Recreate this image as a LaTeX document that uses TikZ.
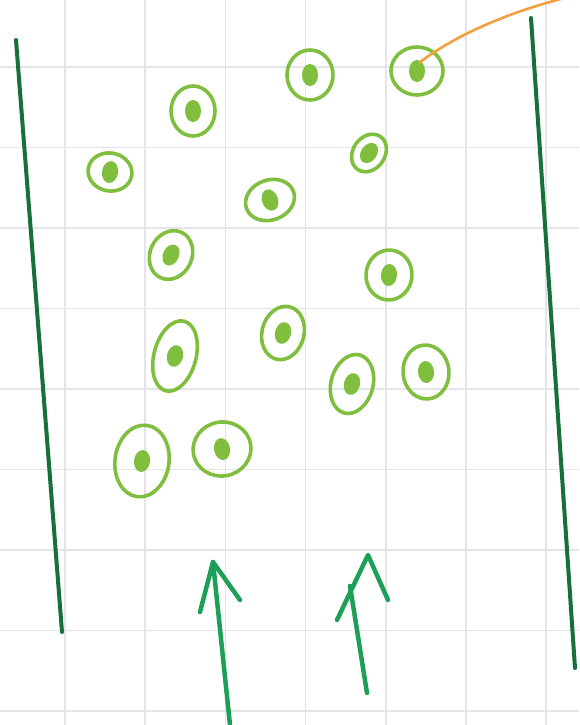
\documentclass[tikz,border=0pt]{standalone}
\usepackage{xcolor}
\usepackage{tikz}
\usetikzlibrary{shapes.geometric}
\definecolor{gris}{RGB}{228,228,234}
\definecolor{verdeclaro}{RGB}{128,190,62}
\definecolor{verdeoscuro}{RGB}{22,112,58}
\definecolor{verdeflecha}{RGB}{28,160,88}
\definecolor{naranja}{RGB}{242,160,62}
\tikzset{
  rejilla/.style={gris,line width=1.5pt},
  pared/.style={verdeoscuro,line width=4pt,line cap=round},
  anillo/.style={ellipse,draw=verdeclaro,line width=3.6pt,inner sep=0pt},
  mancha/.style={fill=verdeclaro},
  flecha/.style={verdeflecha,line width=4.5pt,line cap=round,line join=round}
}
\begin{document}
\begin{tikzpicture}[x=1pt,y=-1pt]
\useasboundingbox[fill=white] (0,0) rectangle (579,725);
\foreach \gx in {-15,65,145.2,225.4,305.6,385.8,466,546.2}
  \draw[rejilla] (\gx,0) -- (\gx,725);
\foreach \gy in {67,147.5,228,308.5,389,469.5,550,630.5,711}
  \draw[rejilla] (0,\gy) -- (579,\gy);

\draw[pared] (16,40) -- (62,632);
\draw[pared] (531,18) -- (575,668);

\foreach \n/\cx/\cy/\w/\h/\r in {1/110/172/44/38/-10,2/193/111/44/50/0,3/310/75/46/50/0,
  4/417/71/52/48/0,5/369/153/32/40/-35,6/270/200/50/40/20,7/171/255/42/50/-25,
  8/389/275/46/50/-5,9/175/356/42/72/-15,10/283/333/42/54/-15,11/352/384/42/60/-15,
  12/426/372/46/54/5,13/142/461/54/72/-8,14/222/449/58/54/10}
{
  \node[anillo,minimum width=\w pt,minimum height=\h pt,rotate=\r] (c\n) at (\cx,\cy) {};
  \fill[mancha,rotate around={\r:(c\n.center)}] (c\n.center) ellipse (8 and 11);
}

\coordinate (ini) at (c4.center);
\coordinate (fin) at (590,-8);
\draw[naranja,line width=2.6pt] ([shift={(2,-8)}]ini) .. controls (455,35) and (515,8) .. (fin);

\coordinate (a1tail) at (230,725);
\coordinate (a1tip) at (213,562);
\coordinate (a1l) at (200,612);
\coordinate (a1r) at (240,600);
\draw[flecha] (a1tail) -- (a1tip);
\draw[flecha] (a1l) -- (a1tip) -- (a1r);

\coordinate (a2tail) at (367,693);
\coordinate (a2mid) at (350,586);
\coordinate (a2tip) at (368,555);
\coordinate (a2l) at (337,620);
\coordinate (a2r) at (388,600);
\draw[flecha] (a2tail) -- (a2mid);
\draw[flecha] (a2l) -- (a2tip) -- (a2r);
\end{tikzpicture}
\end{document}
